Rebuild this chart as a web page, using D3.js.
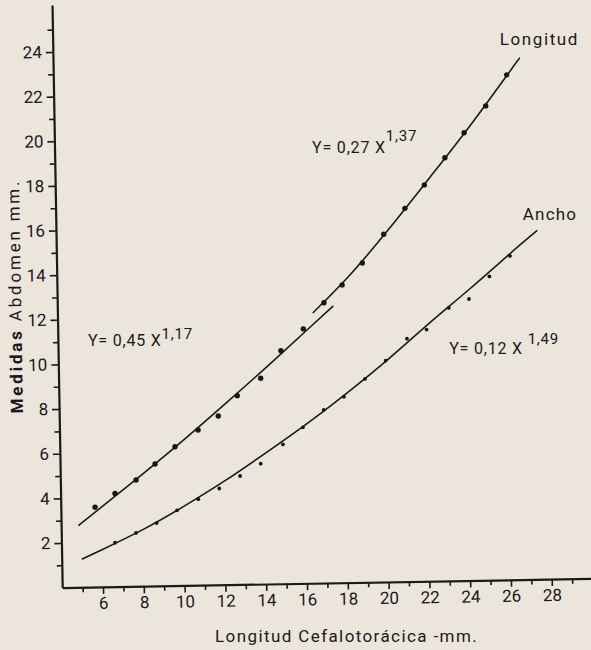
<!DOCTYPE html>
<html lang="es">
<head>
<meta charset="UTF-8">
<title>Medidas Abdomen</title>
<script src="https://cdn.jsdelivr.net/npm/d3@7"></script>
<style>
    body { margin: 0; background: #ebe5dc; }
    svg { display: block; }
    text { font-family: Roboto, "DejaVu Sans", sans-serif; fill: #1a1a1a; }
</style>
</head>
<body>
<div id="chart"></div>
<script>
// puntos observados: Longitud del abdomen
var longX = [5.61, 6.59, 7.62, 8.55, 9.53, 10.66, 11.65, 12.58, 13.73, 14.72, 15.82,
             16.83, 17.72, 18.71, 19.76, 20.80, 21.75, 22.76, 23.70, 24.76, 25.79];
var longY = [3.60, 4.22, 4.82, 5.54, 6.31, 7.06, 7.69, 8.60, 9.38, 10.61, 11.59,
             12.76, 13.56, 14.54, 15.83, 16.99, 18.04, 19.26, 20.38, 21.58, 22.97];

// puntos observados: Ancho del abdomen
var anchoX = [6.59, 7.62, 8.63, 9.63, 10.67, 11.70, 12.72, 13.73, 14.82, 15.80,
              16.82, 17.81, 18.84, 19.86, 20.90, 21.86, 22.95, 23.94, 24.94, 25.95];
var anchoY = [2.01, 2.45, 2.89, 3.46, 3.96, 4.44, 5.00, 5.55, 6.42, 7.18,
              7.96, 8.55, 9.35, 10.17, 11.15, 11.56, 12.53, 12.93, 13.94, 14.86];

// curvas ajustadas
var curvaLong1X = [4.79, 6, 8, 10, 12, 14, 16, 17.29];
var curvaLong1Y = [2.78, 3.66, 5.13, 6.65, 8.24, 9.87, 11.54, 12.62];
var curvaLong2X = [16.28, 18, 20, 22, 24, 26, 26.44];
var curvaLong2Y = [12.30, 13.90, 16.05, 18.35, 20.70, 23.20, 23.73];
var curvaAnchoX = [4.96, 6, 8, 10, 12, 14, 16, 18, 20, 22, 24, 26, 27.29];
var curvaAnchoY = [1.27, 1.72, 2.62, 3.66, 4.80, 6.05, 7.35, 8.75, 10.25, 11.85, 13.40, 15.00, 16.00];

// ticks
var xTicks = [6, 8, 10, 12, 14, 16, 18, 20, 22, 24, 26, 28];
var xMinor = [5, 7, 9, 11, 13, 15, 17, 19, 21, 23, 25, 27, 29];
var yTicks = [2, 4, 6, 8, 10, 12, 14, 16, 18, 20, 22, 24];
var yMinor = [1, 3, 5, 7, 9, 11, 13, 15, 17, 19, 21, 23, 25];

var width = 591,
    height = 650;

var x = d3.scaleLinear().domain([4, 30]).range([62.2, 592.6]);
var y = d3.scaleLinear().domain([0, 26.1]).range([587.6, 5]);

var svg = d3.select("#chart")
    .append("svg")
    .attr("width", width)
    .attr("height", height);

// the scanned page is a little tilted
var ejes = svg.append("g")
    .attr("transform", "rotate(-1," + x(4) + "," + y(0) + ")");

var gx = ejes.append("g")
    .attr("transform", "translate(0," + y(0) + ")");
gx.append("g")
    .call(d3.axisBottom(x).tickValues(xMinor).tickSize(5).tickSizeOuter(0).tickFormat(""))
    .call(function(g) { g.select(".domain").remove(); });
gx.append("g")
    .call(d3.axisBottom(x).tickValues(xTicks).tickSize(7).tickSizeOuter(0).tickPadding(3));

var gy = ejes.append("g")
    .attr("transform", "translate(" + x(4) + ",0)");
gy.append("g")
    .call(d3.axisLeft(y).tickValues(yMinor).tickSize(5).tickSizeOuter(0).tickFormat(""))
    .call(function(g) { g.select(".domain").remove(); });
gy.append("g")
    .call(d3.axisLeft(y).tickValues(yTicks).tickSize(7).tickSizeOuter(0).tickPadding(4));

ejes.selectAll(".domain").attr("stroke", "#1a1a1a").attr("stroke-width", 2.2);
ejes.selectAll(".tick line").attr("stroke", "#1a1a1a").attr("stroke-width", 1.6);
ejes.selectAll(".tick text")
    .attr("font-size", 17)
    .attr("font-family", null)
    .attr("fill", "#1a1a1a");
gx.selectAll("g").attr("font-family", null).attr("font-size", null);
gy.selectAll("g").attr("font-family", null).attr("font-size", null);

// curves
var line = d3.line()
    .x(function(d) { return x(d[0]); })
    .y(function(d) { return y(d[1]); })
    .curve(d3.curveNatural);

var curvas = [
    d3.zip(curvaLong1X, curvaLong1Y),
    d3.zip(curvaLong2X, curvaLong2Y),
    d3.zip(curvaAnchoX, curvaAnchoY)
];

svg.append("g").selectAll("path")
    .data(curvas)
    .enter().append("path")
    .attr("fill", "none")
    .attr("stroke", "#1a1a1a")
    .attr("stroke-width", 1.6)
    .attr("d", line);

// points
svg.append("g").selectAll("circle")
    .data(d3.zip(longX, longY))
    .enter().append("circle")
    .attr("cx", function(d) { return x(d[0]); })
    .attr("cy", function(d) { return y(d[1]); })
    .attr("r", 2.7)
    .attr("fill", "#151515");

svg.append("g").selectAll("circle")
    .data(d3.zip(anchoX, anchoY))
    .enter().append("circle")
    .attr("cx", function(d) { return x(d[0]); })
    .attr("cy", function(d) { return y(d[1]); })
    .attr("r", 1.9)
    .attr("fill", "#151515");

// labels
svg.append("text")
    .attr("x", x(25.45)).attr("y", y(24.31))
    .attr("font-size", 17).attr("letter-spacing", 1.6)
    .text("Longitud");

svg.append("text")
    .attr("x", x(26.58)).attr("y", y(16.47))
    .attr("font-size", 17).attr("letter-spacing", 1.2)
    .text("Ancho");

function formula(xv, yv, main, sup, up) {
    var t = svg.append("text")
        .attr("x", x(xv)).attr("y", y(yv))
        .attr("font-size", 16)
        .attr("letter-spacing", 0.8);
    t.append("tspan").text(main);
    t.append("tspan").attr("font-size", 15).attr("dy", -up).text(sup);
}
formula(5.26, 10.82, "Y= 0,45 X", "1,17", 7);
formula(16.25, 19.47, "Y= 0,27 X", "1,37", 12);
formula(22.97, 10.47, "Y= 0,12 X ", "1,49", 10);

// axis titles
svg.append("text")
    .attr("x", 215).attr("y", 642)
    .attr("font-size", 17).attr("letter-spacing", 1.4)
    .text("Longitud  Cefalotorácica -mm.");

var ty = svg.append("text")
    .attr("transform", "translate(21,296) rotate(-91)")
    .attr("text-anchor", "middle")
    .attr("font-size", 17).attr("letter-spacing", 2.8);
ty.append("tspan").attr("font-weight", "bold").text("Medidas");
ty.append("tspan").text("  Abdomen mm.");
</script>
</body>
</html>
